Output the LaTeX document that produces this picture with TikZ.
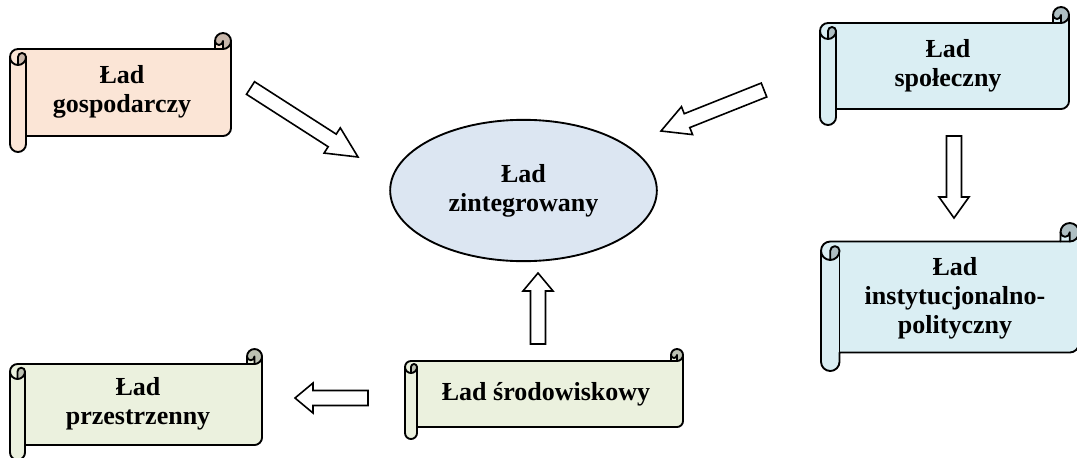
\documentclass[tikz,border=0pt]{standalone}
\usepackage{fontspec}
\setmainfont{Liberation Serif}
\usetikzlibrary{calc,shapes.geometric}
\definecolor{peach}{HTML}{FBE5D6}
\definecolor{peachdk}{HTML}{C9B7AB}
\definecolor{aqua}{HTML}{DAEEF3}
\definecolor{aquadk}{HTML}{AEBEC2}
\definecolor{olive}{HTML}{EBF1DE}
\definecolor{olivedk}{HTML}{BCC1B2}
\definecolor{elli}{HTML}{DCE6F2}
\tikzset{
  lbl/.style={font=\fontsize{19.5pt}{21.75pt}\selectfont\bfseries, align=center, inner sep=0pt},
  barrow/.style={draw=black, fill=white, line width=1.2pt, line join=miter},
  scrollline/.style={draw=black, line width=1.4pt, line join=round, line cap=round}
}
\newcommand\scrollbox[7]{%
\pgfmathsetmacro\sL{#1}\pgfmathsetmacro\sT{#2}\pgfmathsetmacro\sR{#3}\pgfmathsetmacro\sB{#4}\pgfmathsetmacro\sC{#5}%
\pgfmathsetmacro\sCh{\sC/2}\pgfmathsetmacro\sCq{\sC/4}%
\pgfmathsetmacro\yA{\sT+\sC}\pgfmathsetmacro\yH{\sT+\sCh}%
\pgfmathsetmacro\yT{\sT+1.5*\sC}\pgfmathsetmacro\yF{\sT+2*\sC}%
\pgfmathsetmacro\yE{\sB-\sC}\pgfmathsetmacro\yS{\sB-\sCh}\pgfmathsetmacro\yV{\sB-1.5*\sC}%
\pgfmathsetmacro\xT{\sR-\sC}\pgfmathsetmacro\xF{\sR-\sCh}%
\pgfmathsetmacro\xA{\sL+\sC}\pgfmathsetmacro\xH{\sL+\sCh}%
\fill[#6] (\sL,\yT) arc[start angle=180,delta angle=90,radius=\sCh] -- (\xT,\yA) -- (\xT,\yH)
  arc[start angle=180,delta angle=180,radius=\sCh] -- (\sR,\yV)
  arc[start angle=0,delta angle=90,radius=\sCh] -- (\xA,\yE) -- (\xA,\yS)
  arc[start angle=0,delta angle=180,radius=\sCh] -- cycle;
\fill[#7] (\xH,\yF) arc[start angle=90,delta angle=-90,radius=\sCh]
  arc[start angle=0,delta angle=-180,radius=\sCq] -- cycle;
\fill[#7] (\xF,\yA) arc[start angle=90,delta angle=-270,radius=\sCh]
  arc[start angle=180,delta angle=-180,radius=\sCq] -- cycle;
\draw[scrollline] (\sL,\yT) arc[start angle=180,delta angle=90,radius=\sCh] -- (\xT,\yA) -- (\xT,\yH)
  arc[start angle=180,delta angle=180,radius=\sCh] -- (\sR,\yV)
  arc[start angle=0,delta angle=90,radius=\sCh] -- (\xA,\yE) -- (\xA,\yS)
  arc[start angle=0,delta angle=180,radius=\sCh] -- cycle;
\draw[scrollline] (\xT,\yA) -- (\xF,\yA) arc[start angle=90,delta angle=-90,radius=\sCh];
\draw[scrollline] (\xF,\yA) -- (\xF,\yH) arc[start angle=0,delta angle=180,radius=\sCq];
\draw[scrollline] (\xH,\yF) -- (\xH,\yT) arc[start angle=180,delta angle=180,radius=\sCq]
  arc[start angle=0,delta angle=180,radius=\sCh];
\draw[scrollline] (\xA,\yT) -- (\xA,\yE);
}
\newcommand\blockarr[3]{%
\coordinate (hb) at ($(#2)!#3!(#1)$);
\draw[barrow] ($(#1)!5.6pt!90:(#2)$) -- ($(hb)!5.6pt!90:(#2)$) -- ($(hb)!11.25pt!90:(#2)$) -- (#2)
  -- ($(hb)!11.25pt!-90:(#2)$) -- ($(hb)!5.6pt!-90:(#2)$) -- ($(#1)!5.6pt!-90:(#2)$) -- cycle;
}
\begin{document}
\begin{tikzpicture}[x=0.75pt,y=-0.75pt]
\useasboundingbox (0,0) rectangle (1077,457);
\clip (0,0) rectangle (1077,457);
% scrolls
\scrollbox{10}{33}{231}{152}{16}{peach}{peachdk}
\scrollbox{820}{7}{1069}{125}{16}{aqua}{aquadk}
\scrollbox{821}{223}{1079}{371}{18.5}{aqua}{aquadk}
\scrollbox{10}{349}{262}{460}{15}{olive}{olivedk}
\scrollbox{405}{349}{683}{439}{12}{olive}{olivedk}
% labels
\node[lbl] (gosp) at (122,91.5) {Ład\\gospodarczy};
\node[lbl] (spol) at (948,66) {Ład\\społeczny};
\node[lbl] (inst) at (955,298) {Ład\\instytucjonalno-\\polityczny};
\node[lbl] (prze) at (138,404) {Ład\\przestrzenny};
\node[lbl] (srod) at (546,394) {Ład środowiskowy};
\node[lbl, ellipse, draw=black, line width=1.4pt, fill=elli, minimum width=200pt, minimum height=106pt] (zint) at (523.5,190.5) {Ład\\zintegrowany};
% arrow ends
\coordinate (a1t) at (250.5,88);  \coordinate (a1h) at (358,157);
\coordinate (a2t) at (764,90);    \coordinate (a2h) at (661,131);
\coordinate (a3t) at (954,136);   \coordinate (a3h) at (954,218);
\coordinate (a4t) at (538,344);   \coordinate (a4h) at (538,273);
\coordinate (a5t) at (368,398);   \coordinate (a5h) at (295,398);
\blockarr{a1t}{a1h}{23pt}
\blockarr{a2t}{a2h}{21pt}
\blockarr{a3t}{a3h}{15.75pt}
\blockarr{a4t}{a4h}{13.5pt}
\blockarr{a5t}{a5h}{13.5pt}
\end{tikzpicture}
\end{document}
